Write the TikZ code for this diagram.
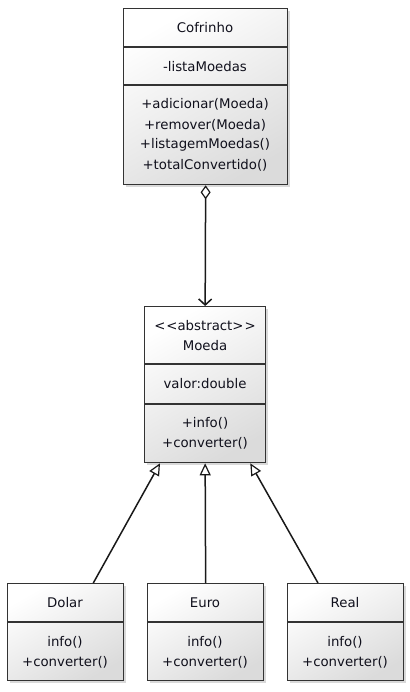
\documentclass[tikz,border=0pt]{standalone}
\usepackage{fontspec}
\setmainfont{DejaVu Sans}
\usetikzlibrary{arrows.meta,shadows}
\definecolor{txtc}{HTML}{10101C}
\definecolor{bord}{HTML}{333333}
\begin{document}
\begin{tikzpicture}[x=1pt,y=-1pt,
  cls/.style={draw=bord, line width=1.3pt, top color=white, bottom color=black!14, shading angle=30,
    drop shadow={shadow xshift=2.5pt, shadow yshift=-2.5pt, opacity=0.25, fill=black!60},
    inner sep=0pt, anchor=north west, minimum width=#1},
  divl/.style={draw=bord, line width=1.3pt},
  txt/.style={font=\fontsize{13.3}{15}\selectfont, text=txtc, inner sep=0pt},
  agg/.style={draw=black!90, line width=1.5pt, {Diamond[open,length=14pt,width=10pt,line width=1.2pt]}-{Straight Barb[length=6pt,width=13pt,line width=1.5pt]}},
  inh/.style={draw=black!90, line width=1.5pt, -{Triangle[open,fill=white,length=12pt,width=11pt,line width=1.2pt]}}]
\useasboundingbox (0,0) rectangle (409,692);

% Cofrinho
\node[cls=164pt, minimum height=176pt] (cof) at (123,8) {};
\draw[divl] (123,47) -- (287,47);
\draw[divl] (123,85) -- (287,85);
\node[txt] (cofn) at (205,28) {Cofrinho};
\node[txt] (cofa) at (205,67) {-listaMoedas};
\node[txt] (cofm1) at (205,104) {+adicionar(Moeda)};
\node[txt] (cofm2) at (205,125) {+remover(Moeda)};
\node[txt] (cofm3) at (205,145) {+listagemMoedas()};
\node[txt] (cofm4) at (205,165) {+totalConvertido()};

% Moeda
\node[cls=121pt, minimum height=156pt] (moe) at (144,306) {};
\draw[divl] (144,364) -- (265,364);
\draw[divl] (144,404) -- (265,404);
\node[txt] (moes) at (205,326) {<\kern1pt<abstract>\kern1pt>};
\node[txt] (moen) at (205,346) {Moeda};
\node[txt] (moea) at (205,384) {valor:double};
\node[txt] (moem1) at (205,423) {+info()};
\node[txt] (moem2) at (205,443) {+converter()};

% Subclasses
\foreach \nm/\lbl/\x in {dol/Dolar/7, eur/Euro/147, rea/Real/287}{
  \node[cls=116pt, minimum height=97pt] (\nm) at (\x,583) {};
  \draw[divl] (\x,622) -- (\x+116,622);
  \node[txt] (\nm n) at (\x+58,603) {\lbl};
  \node[txt] (\nm m1) at (\x+58,642) {info()};
  \node[txt] (\nm m2) at (\x+58,662) {+converter()};
}

% Connectors
\draw[agg] (cof.south) -- (moe.north);
\draw[inh] ([xshift=-31pt]dol.north east) -- ([xshift=16pt]moe.south west);
\draw[inh] (eur.north) -- (moe.south);
\draw[inh] ([xshift=31pt]rea.north west) -- ([xshift=-16pt]moe.south east);
\end{tikzpicture}
\end{document}
